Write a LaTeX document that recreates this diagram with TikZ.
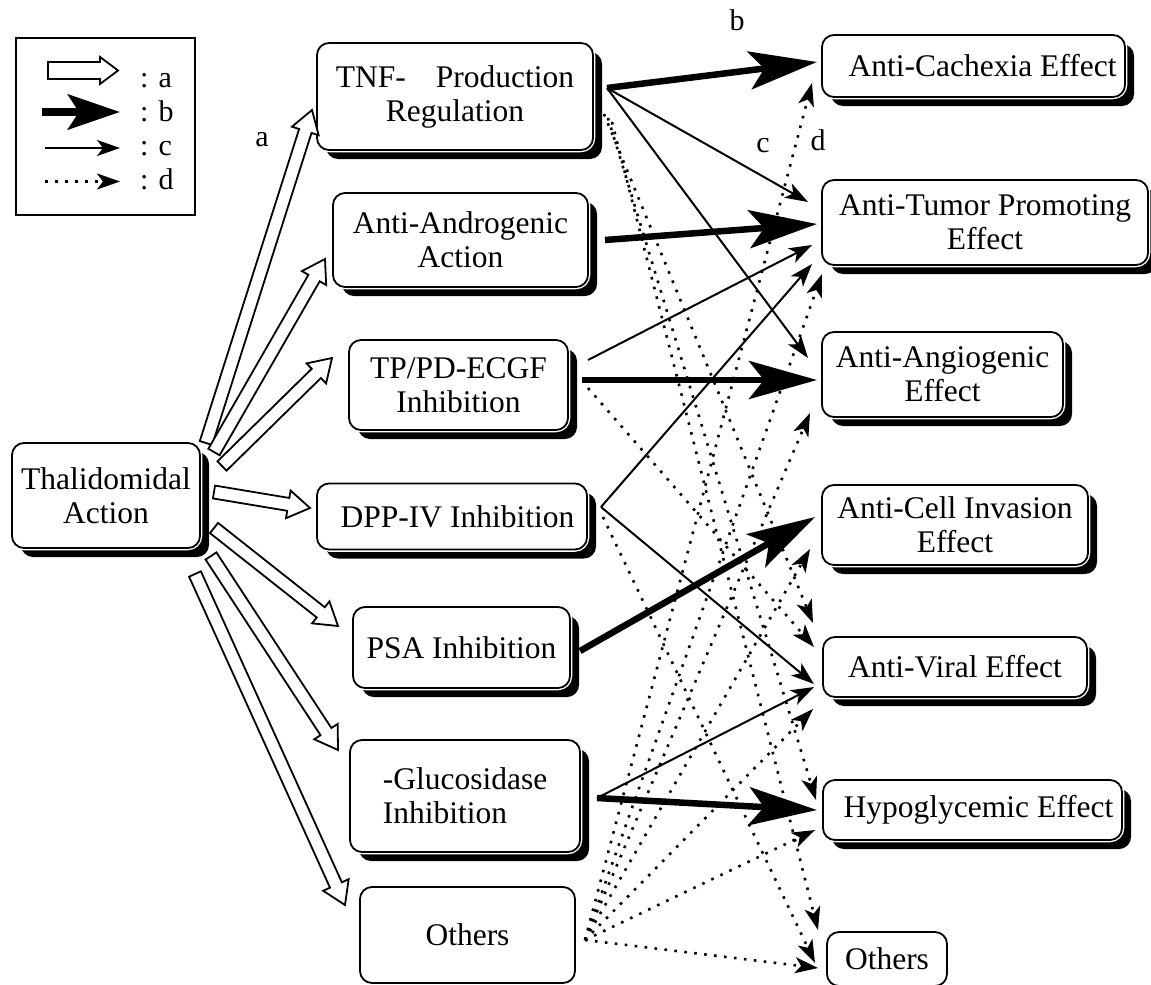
\documentclass[tikz,border=0pt]{standalone}
\usepackage{fontspec}
\setmainfont{Liberation Serif}
\usetikzlibrary{arrows.meta,shadows,calc}
\newcommand\hollowarr[5]{%
  \coordinate (hh) at ($(#2)!#5!(#1)$);
  \draw[hollow] ($(#1)!#3!90:(#2)$) -- ($(hh)!#3!-90:(#1)$) -- ($(hh)!#4!-90:(#1)$) -- (#2)
    -- ($(hh)!#4!90:(#1)$) -- ($(hh)!#3!90:(#1)$) -- ($(#1)!#3!-90:(#2)$) -- cycle;
}
\begin{document}
\begin{tikzpicture}[x=1pt,y=-1pt,
  box/.style={draw, line width=1.8pt, rounded corners=12pt, fill=white, align=center,
    inner sep=0pt, font=\fontsize{31.5}{34}\selectfont},
  sbox/.style={box, drop shadow={shadow xshift=9pt, shadow yshift=-9pt, opacity=1, fill=black},
    preaction={draw=white, line width=4.5pt}},
  hollow/.style={draw, line width=1.8pt, fill=white, line join=miter},
  thick arr/.style={line width=6.5pt, -{Stealth[length=68pt, width=38pt, inset=15pt]}},
  thin arr/.style={line width=2pt, -{Stealth[length=23pt, width=16pt, inset=6pt]}},
  dot arr/.style={line width=2.6pt, dash pattern=on 2.6pt off 7.4pt,
    -{Stealth[length=23pt, width=16pt, inset=6pt]}},
  lbl/.style={font=\fontsize{30}{34}\selectfont, inner sep=0pt}
]
\useasboundingbox (0,0) rectangle (1151,985);

% ---------- legend ----------
\node[draw, line width=1.8pt, minimum width=179pt, minimum height=177pt, inner sep=0pt] (leg) at (105.5,126.5) {};
\coordinate (la1) at (48,70.5);  \coordinate (la2) at (118,70.5);
\coordinate (lb1) at (42,112);   \coordinate (lb2) at (120,112);
\coordinate (lc1) at (45,148);   \coordinate (lc2) at (120,148);
\coordinate (ld1) at (45,181.5); \coordinate (ld2) at (120,181.5);
\hollowarr{la1}{la2}{8.5pt}{13.5pt}{18pt}
\draw[line width=8pt, -{Stealth[length=52pt, width=35pt, inset=11pt]}] (lb1) -- (lb2);
\draw[thin arr] (lc1) -- (lc2);
\draw[dot arr] (ld1) -- (ld2);
\node[lbl, anchor=base west] (ta) at (140,87) {: a};
\node[lbl, anchor=base west] (tb) at (140,121) {: b};
\node[lbl, anchor=base west] (tc) at (140,155) {: c};
\node[lbl, anchor=base west] (td) at (140,189) {: d};

% ---------- left ----------
\node[sbox, minimum width=188pt, minimum height=105pt] (thal) at (106,495.5) {Thalidomidal\\Action};

% ---------- middle ----------
\node[sbox, minimum width=276pt, minimum height=107pt] (tnf) at (455,96.5) {TNF- \hspace{22pt}Production\\Regulation};
\node[sbox, minimum width=255pt, minimum height=94pt] (andr) at (460.5,240) {Anti-Androgenic\\Action};
\node[sbox, minimum width=219pt, minimum height=90pt] (tp) at (458.5,385) {TP/PD-ECGF\\Inhibition};
\node[sbox, minimum width=270pt, minimum height=66pt] (dpp) at (452,516.5) {\hspace*{11pt}DPP-IV Inhibition};
\node[sbox, minimum width=217pt, minimum height=81pt] (psa) at (461.5,647.5) {\raisebox{-2pt}{PSA Inhibition}};
\node[sbox, minimum width=230pt, minimum height=112pt, align=left] (glu) at (465,796) {-Glucosidase\\Inhibition};
\node[box, minimum width=215pt, minimum height=96pt] (oth1) at (467.5,935) {\raisebox{-5pt}{Others}};

% ---------- right ----------
\node[sbox, minimum width=303pt, minimum height=62pt] (cach) at (973.5,66) {\hspace*{18pt}\raisebox{-4pt}{Anti-Cachexia Effect}};
\node[sbox, minimum width=326pt, minimum height=85pt] (tum) at (985,222.5) {Anti-Tumor Promoting\\Effect};
\node[sbox, minimum width=241pt, minimum height=85pt] (ang) at (942.5,374.5) {Anti-Angiogenic\\Effect};
\node[sbox, minimum width=266pt, minimum height=80pt] (inv) at (955,525) {Anti-Cell Invasion\\Effect};
\node[sbox, minimum width=264pt, minimum height=60pt] (vir) at (955,667) {Anti-Viral Effect};
\node[sbox, minimum width=299pt, minimum height=60pt] (hyp) at (972.5,810) {\hspace*{12pt}Hypoglycemic Effect};
\node[box, minimum width=120pt, minimum height=54pt] (oth2) at (887,959) {Others};

% ---------- labels ----------
\node[lbl] (lab-a) at (262,140) {a};
\node[lbl] (lab-b) at (737,20) {b};
\node[lbl] (lab-c) at (763,146) {c};
\node[lbl] (lab-d) at (818,140) {d};

% ---------- hollow arrows (a) ----------
\coordinate (s1) at (206,443); \coordinate (e1) at (312,110);
\coordinate (s2) at (214,452); \coordinate (e2) at (325,259);
\coordinate (s3) at (222,466); \coordinate (e3) at (332,358);
\coordinate (s4) at (214,492); \coordinate (e4) at (310,508);
\coordinate (s5) at (214,528); \coordinate (e5) at (338,626);
\coordinate (s6) at (211,556); \coordinate (e6) at (338,750);
\coordinate (s7) at (195,574); \coordinate (e7) at (345,905);
\hollowarr{s1}{e1}{6.5pt}{14pt}{22pt}
\hollowarr{s2}{e2}{6.5pt}{14pt}{22pt}
\hollowarr{s3}{e3}{6.5pt}{14pt}{22pt}
\hollowarr{s4}{e4}{6.5pt}{14pt}{22pt}
\hollowarr{s5}{e5}{6.5pt}{14pt}{22pt}
\hollowarr{s6}{e6}{6.5pt}{14pt}{22pt}
\hollowarr{s7}{e7}{6.5pt}{14pt}{22pt}

% ---------- ports ----------
\coordinate (tnfR) at (607,88);
\coordinate (tnfD1) at (604,114);
\coordinate (tnfD2) at (608,118);
\coordinate (tnfD3) at (612,122);
\coordinate (andrR) at (605,240);
\coordinate (tpR1) at (588,360);
\coordinate (tpR2) at (582,380);
\coordinate (tpR3) at (588,388);
\coordinate (dppR) at (601,507);
\coordinate (dppR2) at (603,517);
\coordinate (psaR) at (580,651);
\coordinate (gluR) at (597,798);
\coordinate (othR) at (585,940);

\coordinate (cachB) at (817,62);  \coordinate (cachD) at (812,83);
\coordinate (tumC1) at (808,202); \coordinate (tumB) at (817,224);
\coordinate (tumC2) at (812,245); \coordinate (tumC3) at (812,264); \coordinate (tumD) at (822,274);
\coordinate (angC) at (808,358);  \coordinate (angB) at (817,380); \coordinate (angD) at (810,413);
\coordinate (invB) at (815,517);  \coordinate (invD) at (810,549);
\coordinate (virD1) at (813,623); \coordinate (virD2) at (814,647);
\coordinate (virC1) at (814,684); \coordinate (virC2) at (814,687); \coordinate (virD3) at (813,709);
\coordinate (hypD1) at (816,800); \coordinate (hypB) at (817,810); \coordinate (hypD2) at (815,830);
\coordinate (othD1) at (818,930); \coordinate (othD2) at (815,963); \coordinate (othD3) at (818,968);

% ---------- b ----------
\draw[thick arr] (tnfR) -- (cachB);
\draw[thick arr] (andrR) -- (tumB);
\draw[thick arr] (tpR2) -- (angB);
\draw[thick arr] (psaR) -- (invB);
\draw[thick arr] (gluR) -- (hypB);

% ---------- c ----------
\draw[thin arr] (tnfR) -- (tumC1);
\draw[thin arr] (tnfR) -- (angC);
\draw[thin arr] (tpR1) -- (tumC2);
\draw[thin arr] (dppR) -- (tumC3);
\draw[thin arr] (dppR) -- (virC1);
\draw[thin arr] (gluR) -- (virC2);

% ---------- d ----------
\draw[dot arr] (tnfD1) -- (virD1);
\draw[dot arr] (tnfD2) -- (hypD1);
\draw[dot arr] (tnfD3) -- (othD1);
\draw[dot arr] (tpR3) -- (virD2);
\draw[dot arr] (dppR2) -- (othD2);
\draw[dot arr] (othR) -- (cachD);
\draw[dot arr] (othR) -- (tumD);
\draw[dot arr] (othR) -- (angD);
\draw[dot arr] (othR) -- (invD);
\draw[dot arr] (othR) -- (virD3);
\draw[dot arr] (othR) -- (hypD2);
\draw[dot arr] (othR) -- (othD3);
\end{tikzpicture}
\end{document}
